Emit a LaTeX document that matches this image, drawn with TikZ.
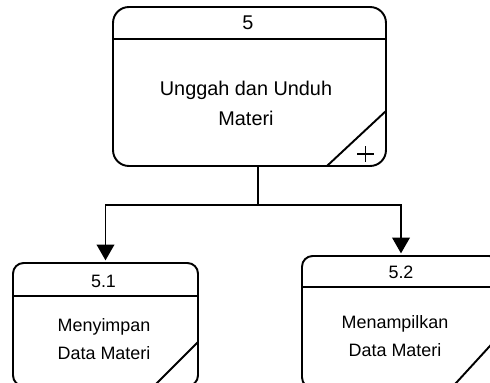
\documentclass[tikz,border=0pt]{standalone}
\usepackage{fontspec}
\setmainfont{Liberation Sans}
\usetikzlibrary{arrows.meta,calc}

\tikzset{
    proc/.style={draw, line width=1.1pt, inner sep=0pt, outer sep=0pt},
    line/.style={line width=1.1pt},
    flow/.style={line width=1.1pt, shorten >=1.5pt, -{Triangle[length=9pt,width=10pt]}},
    bigtxt/.style={font=\fontsize{11.3}{17}\selectfont, align=center, inner sep=0pt},
    smalltxt/.style={font=\fontsize{10.2}{15.9}\selectfont, align=center, inner sep=0pt}
}

\begin{document}
\begin{tikzpicture}[x=0.02cm, y=-0.02cm]
        \useasboundingbox (0,0) rectangle (490,382);
        \clip (0,0) rectangle (490,382);

        % Processes
        \node[proc, rounded corners=9pt, minimum width=5.46cm, minimum height=3.18cm] (p5) at (249.5,86.5) {};
        \node[proc, rounded corners=6pt, minimum width=3.7cm, minimum height=2.46cm] (p51) at (105.5,324.5) {};
        \node[proc, rounded corners=6pt, minimum width=3.96cm, minimum height=2.64cm] (p52) at (401,322) {};

        % Header lines
        \draw[line] (p5.west |- 0,39) -- (p5.east |- 0,39);
        \draw[line] (p51.west |- 0,296) -- (p51.east |- 0,296);
        \draw[line] (p52.west |- 0,287) -- (p52.east |- 0,287);

        % Corner marks
        \draw[line] ($(p5.south east)+(-59,0)$) -- ($(p5.south east)+(0,-55)$);
        \draw[line] ($(p51.south east)+(-44,0)$) -- ($(p51.south east)+(0,-44)$);
        \draw[line] ($(p52.south east)+(-48.5,0)$) -- ($(p52.south east)+(0,-53)$);
        \draw[line width=0.6pt] (357,154) -- (374,154) (365.5,146) -- (365.5,162);

        % Labels
        \node[bigtxt] (n5) at (248,23) {5};
        \node[bigtxt] (t5) at (246,103) {Unggah dan Unduh\\Materi};
        \node[smalltxt] (n51) at (103.5,281) {5.1};
        \node[smalltxt] (t51) at (104,339) {Menyimpan\\Data Materi};
        \node[smalltxt] (n52) at (401,272) {5.2};
        \node[smalltxt] (t52) at (395,336) {Menampilkan\\Data Materi};

        % Edges
        \coordinate (j) at (258,205);
        \draw[line] (j |- p5.south) -- (j);
        \draw[flow] (j) -| (p51.north);
        \draw[flow] (j) -| (p52.north);
    \end{tikzpicture}
\end{document}
